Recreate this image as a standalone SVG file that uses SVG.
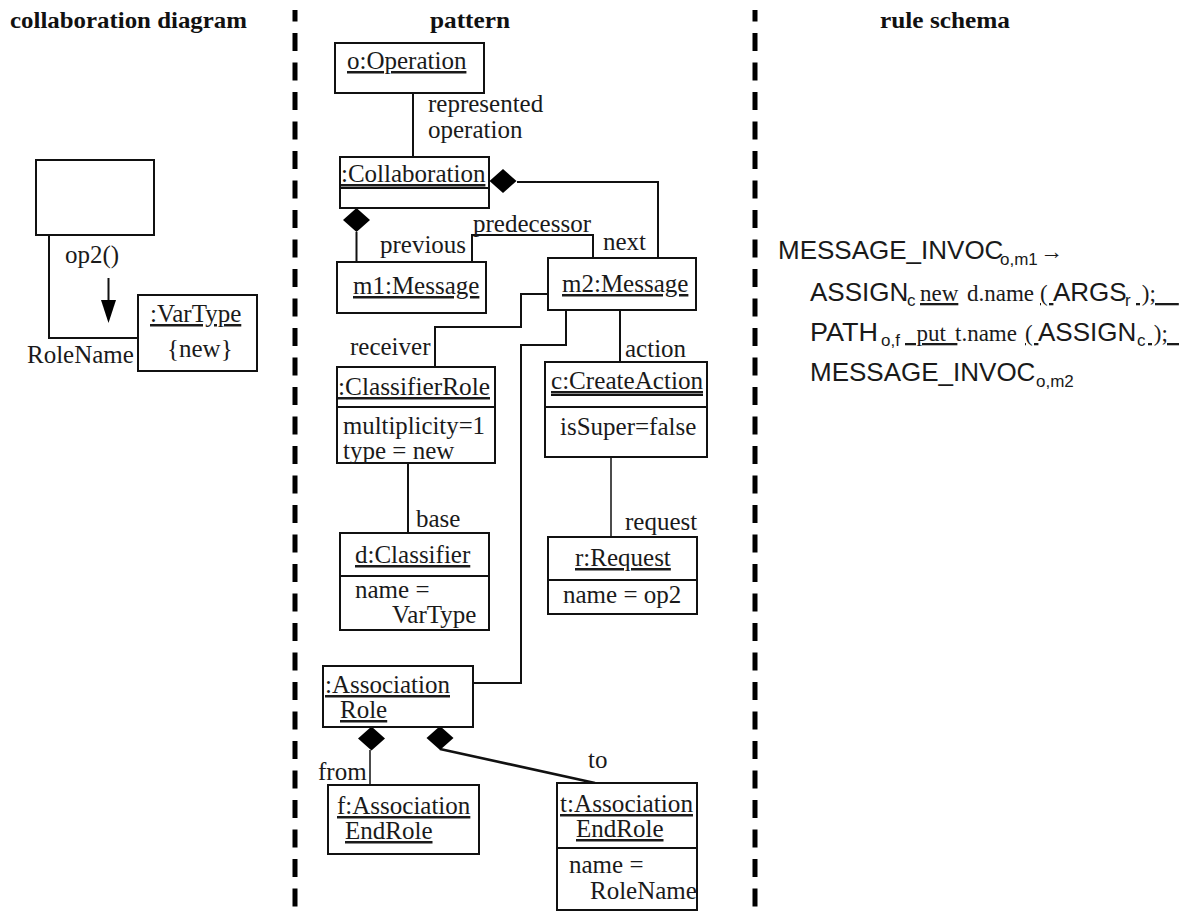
<svg xmlns="http://www.w3.org/2000/svg" width="1179" height="913" viewBox="0 0 1179 913">
  <style>
    .t { font-family: "Liberation Serif", "Times New Roman", serif; font-size: 25px; fill: #1a1a1a; }
    .u { text-decoration: underline; }
    .h { font-family: "Liberation Serif", "Times New Roman", serif; font-weight: bold; font-size: 24px; fill: #111; }
    .box { fill: #fff; stroke: #111; stroke-width: 2; }
    .sep { stroke: #111; stroke-width: 2; }
    .ln { fill: none; stroke: #111; stroke-width: 2; }
    .thin { stroke-width: 1.5; }
    .thick { stroke-width: 2.6; }
    .dash { stroke: #000; stroke-width: 5; stroke-dasharray: 18 11.5; stroke-dashoffset: 6.5; }
    .s { font-family: "Liberation Sans", Arial, sans-serif; font-size: 26px; fill: #1a1a1a; }
    .sub { font-family: "Liberation Sans", Arial, sans-serif; font-size: 17px; fill: #1a1a1a; }
    .r { font-family: "Liberation Serif", "Times New Roman", serif; font-size: 23px; fill: #1a1a1a; }
  </style>
  <defs>
    <path id="dia" d="M0,-12 L13.5,0 L0,12 L-13.5,0 Z" fill="#000"/>
  </defs>

  <rect width="1179" height="913" fill="#fff"/>

  <!-- column separators -->
  <g id="separators">
    <line class="dash" x1="295" y1="10" x2="295" y2="913"/>
    <line class="dash" x1="755" y1="10" x2="755" y2="913"/>
  </g>

  <!-- column headings -->
  <g id="headings">
    <text class="h" x="10" y="28" textLength="237" lengthAdjust="spacingAndGlyphs">collaboration diagram</text>
    <text class="h" x="430" y="28" textLength="80" lengthAdjust="spacingAndGlyphs">pattern</text>
    <text class="h" x="880" y="28" textLength="130" lengthAdjust="spacingAndGlyphs">rule schema</text>
  </g>

  <!-- collaboration diagram -->
  <g id="collab-sender">
    <rect class="box" x="36" y="160" width="118" height="75"/>
  </g>
  <g id="collab-vartype">
    <rect class="box" x="138" y="295" width="119" height="76"/>
    <text class="t u" x="150" y="322">:VarType</text>
    <text class="t" x="167" y="357">{new}</text>
  </g>
  <g id="collab-link">
    <path class="ln" d="M49,235 V338 H138"/>
    <text class="t" x="65" y="263">op2()</text>
    <text class="t" x="27" y="363">RoleName</text>
    <line class="ln" x1="108.5" y1="278" x2="108.5" y2="302"/>
    <polygon points="101,300 116,300 108.5,323" fill="#000"/>
  </g>

  <!-- pattern connectors -->
  <g id="connectors">
    <path class="ln" d="M413,93 V157"/>
    <path class="ln" d="M517,182 H658 V258"/>
    <path class="ln" d="M356.5,232 V262"/>
    <path class="ln" d="M472,262 V235 H593 V258"/>
    <path class="ln" d="M548,294 H521 V327 H435 V367"/>
    <path class="ln" d="M566,310 V345 H521 V683 H473"/>
    <path class="ln" d="M620,310 V362"/>
    <path class="ln" d="M408,463 V533"/>
    <path class="ln thin" d="M611,457 V537"/>
    <path class="ln thin" d="M370,750 V785"/>
    <path class="ln thick" d="M440,749 L595,783"/>
    <use href="#dia" x="503" y="181"/>
    <use href="#dia" x="356.5" y="220"/>
    <use href="#dia" x="371.5" y="738.5"/>
    <use href="#dia" x="440" y="738"/>
  </g>

  <!-- connector labels -->
  <g id="labels">
    <text class="t" x="428" y="112">represented</text>
    <text class="t" x="428" y="138">operation</text>
    <text class="t" x="473" y="232">predecessor</text>
    <text class="t" x="380" y="253">previous</text>
    <text class="t" x="603" y="250">next</text>
    <text class="t" x="350" y="355">receiver</text>
    <text class="t" x="625" y="357">action</text>
    <text class="t" x="416" y="527">base</text>
    <text class="t" x="625" y="530">request</text>
    <text class="t" x="318" y="780">from</text>
    <text class="t" x="588" y="768">to</text>
  </g>

  <g id="o-operation">
    <rect class="box" x="335" y="43" width="149" height="50"/>
    <text class="t u" x="347" y="69">o:Operation</text>
  </g>

  <g id="collaboration">
    <rect class="box" x="340" y="157" width="149" height="51"/>
    <text class="t u" x="341" y="182">:Collaboration</text>
    <line class="sep" x1="340" y1="188" x2="489" y2="188"/>
  </g>

  <g id="m1-message">
    <rect class="box" x="337" y="262" width="149" height="51"/>
    <text class="t u" x="353" y="294">m1:Message</text>
  </g>

  <g id="m2-message">
    <rect class="box" x="548" y="258" width="148" height="52"/>
    <text class="t u" x="562" y="292">m2:Message</text>
  </g>

  <g id="classifier-role">
    <rect class="box" x="337" y="367" width="158" height="96"/>
    <text class="t u" x="338" y="395" textLength="152" lengthAdjust="spacingAndGlyphs">:ClassifierRole</text>
    <line class="sep" x1="337" y1="407" x2="495" y2="407"/>
    <text class="t" x="343" y="434" textLength="142" lengthAdjust="spacingAndGlyphs">multiplicity=1</text>
    <text class="t" x="343" y="459">type = new</text>
  </g>

  <g id="create-action">
    <rect class="box" x="545" y="362" width="162" height="95"/>
    <text class="t u" x="551" y="389" textLength="152" lengthAdjust="spacingAndGlyphs">c:CreateAction</text>
    <line class="sep" x1="551" y1="395" x2="703" y2="395"/>
    <line class="sep" x1="545" y1="407" x2="707" y2="407"/>
    <text class="t" x="560" y="435">isSuper=false</text>
  </g>

  <g id="d-classifier">
    <rect class="box" x="340" y="533" width="149" height="97"/>
    <text class="t u" x="355" y="563">d:Classifier</text>
    <line class="sep" x1="340" y1="576" x2="489" y2="576"/>
    <text class="t" x="355" y="598">name =</text>
    <text class="t" x="392" y="623">VarType</text>
  </g>

  <g id="r-request">
    <rect class="box" x="548" y="537" width="149" height="77"/>
    <text class="t u" x="575" y="566">r:Request</text>
    <line class="sep" x1="548" y1="580" x2="697" y2="580"/>
    <text class="t" x="563" y="603">name = op2</text>
  </g>

  <g id="association-role">
    <rect class="box" x="323" y="666" width="150" height="61"/>
    <text class="t u" x="325" y="693">:Association</text>
    <text class="t u" x="340" y="718">Role</text>
  </g>

  <g id="f-association-end-role">
    <rect class="box" x="328" y="785" width="151" height="69"/>
    <text class="t u" x="337" y="814">f:Association</text>
    <text class="t u" x="345" y="839">EndRole</text>
  </g>

  <g id="t-association-end-role">
    <rect class="box" x="557" y="783" width="140" height="127"/>
    <text class="t u" x="560" y="812" textLength="133" lengthAdjust="spacingAndGlyphs">t:Association</text>
    <text class="t u" x="576" y="837">EndRole</text>
    <line class="sep" x1="557" y1="848" x2="697" y2="848"/>
    <text class="t" x="569" y="873">name =</text>
    <text class="t" x="590" y="899">RoleName</text>
  </g>

  <!-- rule schema -->
  <g id="rule-schema">
    <text y="259"><tspan class="s" x="778">MESSAGE_INVOC</tspan><tspan class="sub" x="1000" dy="6">o,m1</tspan><tspan class="r" x="1040" dy="-6">→</tspan></text>
    <text y="301"><tspan class="s" x="810">ASSIGN</tspan><tspan class="sub" x="907" dy="5">c</tspan><tspan class="r u" x="920" dy="-5">new</tspan><tspan class="r" x="967">d.name</tspan><tspan class="r u" x="1040">(&#160;</tspan><tspan class="s" x="1053">ARGS</tspan><tspan class="sub" x="1125" dy="5">r</tspan><tspan class="r u" x="1136" dy="-5">&#160;);&#160;&#160;&#160;&#160;</tspan></text>
    <text y="341"><tspan class="s" x="810" textLength="68" lengthAdjust="spacingAndGlyphs">PATH</tspan><tspan class="sub" x="881" dy="5">o,f</tspan><tspan class="r u" x="905" dy="-5">&#160;&#160;put&#160;&#160;</tspan><tspan class="r" x="955">t.name</tspan><tspan class="r u" x="1025">(&#160;</tspan><tspan class="s" x="1038">ASSIGN</tspan><tspan class="sub" x="1137" dy="5">c</tspan><tspan class="r u" x="1148" dy="-5">&#160;);&#160;&#160;</tspan></text>
    <text y="381"><tspan class="s" x="810">MESSAGE_INVOC</tspan><tspan class="sub" x="1036" dy="6">o,m2</tspan></text>
  </g>
</svg>
